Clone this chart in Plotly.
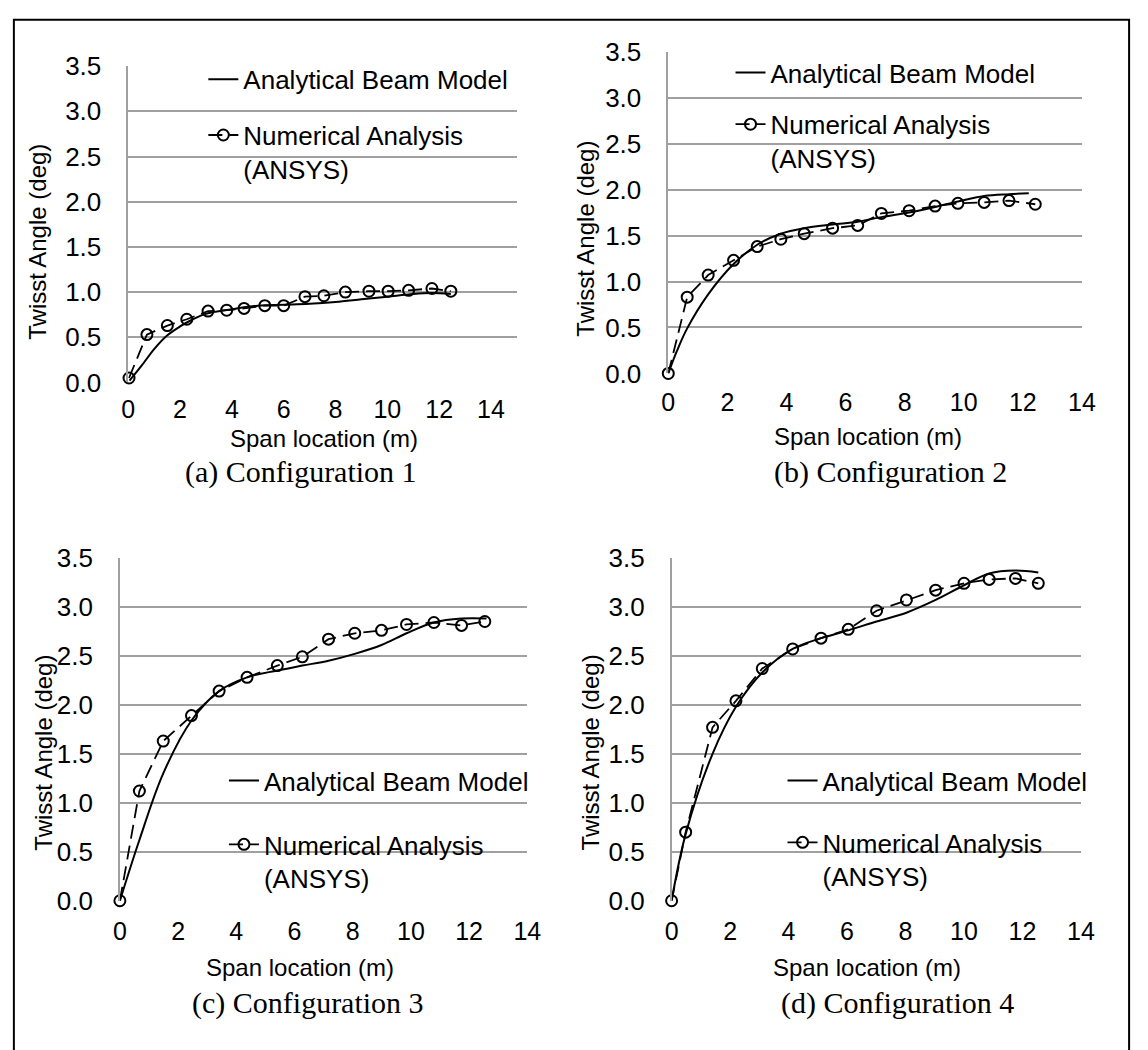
import plotly.graph_objects as go

W, H = 1148, 1050

# ---------------- data ----------------
x_ticks = [0, 2, 4, 6, 8, 10, 12, 14]
y_ticks = [0.0, 0.5, 1.0, 1.5, 2.0, 2.5, 3.0, 3.5]

# (a) Configuration 1
a_num_x = [0.03, 0.72, 1.51, 2.26, 3.08, 3.80, 4.47, 5.27, 6.00, 6.82, 7.55, 8.38, 9.29, 10.03, 10.82, 11.72, 12.45]
a_num_y = [0.05, 0.53, 0.63, 0.70, 0.79, 0.80, 0.82, 0.85, 0.85, 0.95, 0.96, 1.00, 1.01, 1.01, 1.02, 1.04, 1.01]
a_ana_x = [0.05, 0.5, 1.0, 1.5, 2.0, 2.5, 3.0, 4.0, 5.0, 6.0, 7.0, 8.0, 9.0, 10.0, 11.0, 11.7, 12.45]
a_ana_y = [0.02, 0.18, 0.37, 0.52, 0.62, 0.70, 0.76, 0.81, 0.85, 0.86, 0.87, 0.89, 0.92, 0.95, 0.98, 0.99, 0.98]

# (b) Configuration 2
b_num_x = [0, 0.64, 1.35, 2.21, 3.01, 3.81, 4.60, 5.56, 6.41, 7.21, 8.15, 9.03, 9.80, 10.69, 11.53, 12.42]
b_num_y = [0, 0.83, 1.07, 1.23, 1.38, 1.46, 1.52, 1.58, 1.61, 1.74, 1.77, 1.82, 1.85, 1.86, 1.88, 1.84]
b_ana_x = [0, 0.3, 0.64, 1.35, 2.21, 3.01, 3.81, 4.60, 5.56, 6.41, 7.21, 8.15, 9.03, 9.80, 10.69, 11.53, 12.2]
b_ana_y = [0, 0.25, 0.49, 0.86, 1.19, 1.40, 1.52, 1.58, 1.62, 1.65, 1.70, 1.75, 1.81, 1.87, 1.93, 1.95, 1.96]

# (c) Configuration 3
c_num_x = [0, 0.67, 1.49, 2.46, 3.41, 4.37, 5.41, 6.27, 7.17, 8.07, 8.99, 9.85, 10.79, 11.74, 12.54]
c_num_y = [0, 1.12, 1.63, 1.89, 2.14, 2.28, 2.40, 2.49, 2.67, 2.73, 2.76, 2.82, 2.84, 2.81, 2.85]
c_ana_x = [0, 0.67, 1.49, 2.46, 3.41, 4.37, 5.41, 6.27, 7.17, 8.07, 8.99, 9.85, 10.79, 11.74, 12.6]
c_ana_y = [0, 0.62, 1.30, 1.84, 2.14, 2.28, 2.35, 2.40, 2.45, 2.52, 2.61, 2.73, 2.84, 2.88, 2.88]

# (d) Configuration 4
d_num_x = [0, 0.48, 1.40, 2.20, 3.10, 4.14, 5.11, 6.04, 7.01, 8.03, 9.03, 10.0, 10.86, 11.76, 12.54]
d_num_y = [0, 0.70, 1.77, 2.04, 2.37, 2.57, 2.68, 2.77, 2.96, 3.07, 3.17, 3.24, 3.28, 3.29, 3.24]
d_ana_x = [0, 0.48, 1.40, 2.20, 3.10, 4.14, 5.11, 6.04, 7.01, 8.03, 9.03, 10.0, 10.86, 11.76, 12.54]
d_ana_y = [0, 0.68, 1.50, 1.98, 2.33, 2.57, 2.68, 2.76, 2.85, 2.94, 3.07, 3.22, 3.34, 3.37, 3.35]

captions = ["(a) Configuration 1", "(b) Configuration 2", "(c) Configuration 3", "(d) Configuration 4"]
ana_name = "Analytical Beam Model"
num_name = "Numerical Analysis<br>(ANSYS)"
x_title = "Span location (m)"
y_title = "Twisst Angle (deg)"

# ---------------- layout geometry (pixels) ----------------
SANS = "Liberation Sans, Arial, sans-serif"
SERIF = "Liberation Serif, Times New Roman, serif"
GRID = "#a0a0a0"
FS = 26      # y tick + legend font
FX = 25      # x tick font
FT = 24      # axis titles
FC = 30      # captions


def fx(p):
    return p / W


def fy(p):
    return 1 - p / H


panels = [
    dict(nx=a_num_x, ny=a_num_y, ax=a_ana_x, ay=a_ana_y, xpx=(123.5, 519.4), xmax=15,
         ypx=(52.7, 378.3), xt=(323, 436), yt=(31, 233), cap=(299, 470),
         leg=(200, 42), gap=19, xso=10, mask=(152, 519.4, 62, 170)),
    dict(nx=b_num_x, ny=b_num_y, ax=b_ana_x, ay=b_ana_y, xpx=(673.6, 1095), xmax=14,
         ypx=(37.7, 369), xt=(877, 434), yt=(589, 230), cap=(900, 470),
         leg=(737, 35), gap=15, xso=12, mask=(689, 1063, 46, 160)),
    dict(nx=c_num_x, ny=c_num_y, ax=c_ana_x, ay=c_ana_y, xpx=(115, 530), xmax=14,
         ypx=(558.8, 911.8), xt=(298.5, 981), yt=(37, 759), cap=(307, 1017),
         leg=(221, 764), gap=27, xso=13, mask=(172, 530, 770, 895)),
    dict(nx=d_num_x, ny=d_num_y, ax=d_ana_x, ay=d_ana_y, xpx=(677, 1094), xmax=14,
         ypx=(558.8, 911.8), xt=(876, 981), yt=(594, 759), cap=(907, 1017),
         leg=(790, 764), gap=25, xso=13, mask=(741, 1094, 770, 895)),
]

fig = go.Figure()
layout = dict(
    width=W, height=H,
    margin=dict(l=0, r=0, t=0, b=0),
    paper_bgcolor="white", plot_bgcolor="white",
    showlegend=True,
    font=dict(family=SANS, color="black", size=FS),
)
annotations = []
shapes = []

for i, p in enumerate(panels, start=1):
    sfx = "" if i == 1 else str(i)
    xa, ya, lg = "x" + sfx, "y" + sfx, "legend" + sfx

    fig.add_trace(go.Scatter(
        x=p["ax"], y=p["ay"], mode="lines", name=ana_name,
        line=dict(color="black", width=2, shape="spline", smoothing=1.0),
        xaxis=xa, yaxis=ya, legend=lg, legendgroup="ana%d" % i,
        cliponaxis=False, hoverinfo="skip"))
    fig.add_trace(go.Scatter(
        x=p["nx"], y=p["ny"], mode="lines+markers", name=num_name,
        line=dict(color="black", width=1.8, dash="14px,7px"),
        marker=dict(symbol="circle-open", size=11, color="black", line=dict(width=2, color="black")),
        xaxis=xa, yaxis=ya, legend=lg, legendgroup="num%d" % i,
        cliponaxis=False, hoverinfo="skip"))

    layout["xaxis" + sfx] = dict(
        domain=[fx(p["xpx"][0]), fx(p["xpx"][1])], range=[0, p["xmax"]],
        tickmode="array", tickvals=x_ticks, ticks="", showgrid=False,
        showline=False, zeroline=False, anchor=ya,
        tickfont=dict(family=SANS, size=FX, color="black"),
        ticklabelstandoff=p["xso"], fixedrange=True)
    layout["yaxis" + sfx] = dict(
        domain=[fy(p["ypx"][1]), fy(p["ypx"][0])], range=[0, 3.5],
        tickmode="array", tickvals=y_ticks, tickformat=".1f", ticks="",
        showgrid=True, gridcolor=GRID, gridwidth=1.5,
        showline=True, linecolor=GRID, linewidth=1.5,
        zeroline=False, anchor=xa,
        tickfont=dict(family=SANS, size=FS, color="black"),
        ticklabelstandoff=20, fixedrange=True)
    layout[lg] = dict(
        x=fx(p["leg"][0]), y=fy(p["leg"][1]), xanchor="left", yanchor="top",
        bgcolor="rgba(0,0,0,0)", borderwidth=0, valign="top",
        tracegroupgap=p["gap"], traceorder="grouped",
        font=dict(family=SANS, size=FS, color="black"))

    m = p["mask"]
    shapes.append(dict(type="rect", xref="paper", yref="paper", layer="between",
                       x0=fx(m[0]), x1=fx(m[1]), y0=fy(m[3]), y1=fy(m[2]),
                       fillcolor="white", line=dict(width=0)))

    annotations.append(dict(text=x_title, x=fx(p["xt"][0]), y=fy(p["xt"][1]),
                            xref="paper", yref="paper", showarrow=False,
                            xanchor="center", yanchor="middle",
                            font=dict(family=SANS, size=FT, color="black")))
    annotations.append(dict(text=y_title, x=fx(p["yt"][0]), y=fy(p["yt"][1]),
                            xref="paper", yref="paper", showarrow=False, textangle=-90,
                            xanchor="center", yanchor="middle",
                            font=dict(family=SANS, size=FT, color="black")))
    annotations.append(dict(text=captions[i - 1], x=fx(p["cap"][0]), y=fy(p["cap"][1]),
                            xref="paper", yref="paper", showarrow=False,
                            xanchor="center", yanchor="middle",
                            font=dict(family=SERIF, size=FC, color="black")))

# outer frame (bottom edge falls outside the picture, as in the reference)
shapes.append(dict(type="rect", xref="paper", yref="paper", layer="above",
                   x0=fx(7), x1=fx(1143), y0=-0.02, y1=fy(5),
                   line=dict(color="black", width=2), fillcolor="rgba(0,0,0,0)"))

layout["annotations"] = annotations
layout["shapes"] = shapes
fig.update_layout(**layout)

fig.write_html("out.html", config={"displayModeBar": False},
               post_script="document.body.style.margin='0';")
